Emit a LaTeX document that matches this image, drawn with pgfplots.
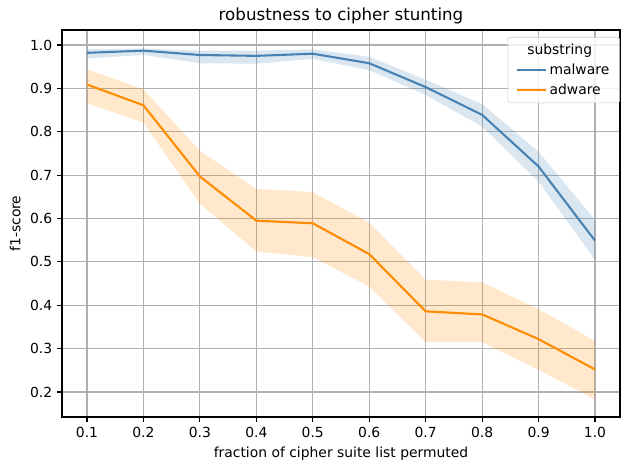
\documentclass[border=0pt]{standalone}
\usepackage{pgfplots}
\pgfplotsset{compat=1.18}
\usepgfplotslibrary{fillbetween}
\usepackage{fontspec}
\setmainfont{DejaVu Sans}
\definecolor{mblue}{HTML}{4682B4}
\definecolor{morange}{HTML}{FF8C00}
\definecolor{gridgray}{HTML}{B0B0B0}
\begin{document}
\begin{tikzpicture}
\begin{axis}[
  scale only axis,
  width=401.76pt, height=278.64pt,
  at={(0,0)}, anchor=south west,
  xmin=0.0557, xmax=1.0443,
  ymin=0.1424, ymax=1.0346,
  xtick={0.1,0.2,0.3,0.4,0.5,0.6,0.7,0.8,0.9,1.0},
  ytick={0.2,0.3,0.4,0.5,0.6,0.7,0.8,0.9,1.0},
  /pgf/number format/assume math mode=true,
  xticklabel style={/pgf/number format/fixed,/pgf/number format/fixed zerofill,/pgf/number format/precision=1},
  yticklabel style={/pgf/number format/fixed,/pgf/number format/fixed zerofill,/pgf/number format/precision=1},
  ticklabel style={font=\fontsize{10}{12}\selectfont},
  tick align=outside, tick pos=left,
  major tick length=3.5pt,
  every tick/.style={black, line width=0.8pt},
  axis line style={line width=0.8pt},
  grid=major,
  major grid style={gridgray, line width=0.8pt},
  xlabel={fraction of cipher suite list permuted},
  ylabel={f1-score},
  label style={font=\fontsize{10}{12}\selectfont},
  title={robustness to cipher stunting},
  title style={font=\fontsize{12}{14}\selectfont, yshift=-5pt},
  legend style={at={(1.0,0.982)}, anchor=north east,
    draw=black!20, rounded corners=2pt, fill=white, fill opacity=0.8, text opacity=1,
    font=\fontsize{10}{12}\selectfont, inner xsep=5.5pt, inner ysep=2.5pt,
    row sep=1.5pt},
  legend cell align=left,
  legend image code/.code={\draw[#1, line width=1.5pt] (0pt,0pt) -- (21pt,0pt);},
]
\addlegendimage{empty legend}
\addlegendentry{\hspace*{-16pt}substring}

\addplot[name path=mu, draw=none, forget plot] coordinates {
(0.1,0.990) (0.2,0.992) (0.3,0.987) (0.4,0.987) (0.5,0.990) (0.6,0.973) (0.7,0.920) (0.8,0.864) (0.9,0.754) (1.0,0.597)};
\addplot[name path=ml, draw=none, forget plot] coordinates {
(0.1,0.969) (0.2,0.977) (0.3,0.958) (0.4,0.957) (0.5,0.968) (0.6,0.942) (0.7,0.885) (0.8,0.812) (0.9,0.685) (1.0,0.505)};
\addplot[mblue, fill opacity=0.2, draw=none, forget plot] fill between[of=mu and ml];

\addplot[name path=au, draw=none, forget plot] coordinates {
(0.1,0.944) (0.2,0.898) (0.3,0.756) (0.4,0.668) (0.5,0.661) (0.6,0.590) (0.7,0.459) (0.8,0.453) (0.9,0.391) (1.0,0.318)};
\addplot[name path=al, draw=none, forget plot] coordinates {
(0.1,0.866) (0.2,0.821) (0.3,0.634) (0.4,0.524) (0.5,0.511) (0.6,0.443) (0.7,0.315) (0.8,0.315) (0.9,0.251) (1.0,0.183)};
\addplot[morange, fill opacity=0.2, draw=none, forget plot] fill between[of=au and al];

\addplot[mblue, line width=1.5pt] coordinates {
(0.1,0.982) (0.2,0.987) (0.3,0.977) (0.4,0.975) (0.5,0.980) (0.6,0.958) (0.7,0.903) (0.8,0.839) (0.9,0.720) (1.0,0.549)};
\addlegendentry{malware}
\addplot[morange, line width=1.5pt] coordinates {
(0.1,0.909) (0.2,0.861) (0.3,0.697) (0.4,0.595) (0.5,0.589) (0.6,0.518) (0.7,0.386) (0.8,0.379) (0.9,0.322) (1.0,0.252)};
\addlegendentry{adware}
\end{axis}
\pgfresetboundingbox
\path[use as bounding box] (-44.64pt,-38.16pt) rectangle (408.96pt,300.24pt);
\end{tikzpicture}
\end{document}
